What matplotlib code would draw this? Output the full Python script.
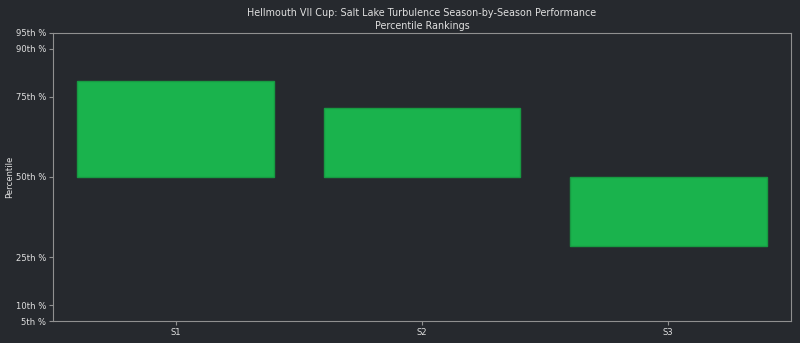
import matplotlib.pyplot as plt
import numpy as np

# season data
seasons = ['S1', 'S2', 'S3']
percentiles = [80.0, 71.7, 28.4]
baseline = 50
tick_vals = [5, 10, 25, 50, 75, 90, 95]
tick_labels = ['5th %', '10th %', '25th %', '50th %', '75th %', '90th %', '95th %']

bg = '#26292e'
fg = '#e0e0e0'
spine_c = '#909090'

fig = plt.figure(figsize=(8, 3.43), dpi=100, facecolor=bg)
ax = fig.add_axes([0.066, 0.064, 0.923, 0.840], facecolor=bg)

x = np.arange(len(seasons))
heights = [p - baseline for p in percentiles]
ax.bar(x, heights, bottom=baseline, width=0.8, color='#1ab34d', edgecolor='#179a42', linewidth=1)

ax.set_xlim(-0.5, len(seasons) - 0.5)
ax.set_ylim(5, 95)
ax.set_xticks(x)
ax.set_xticklabels(seasons)
ax.set_yticks(tick_vals)
ax.set_yticklabels(tick_labels)
ax.tick_params(colors=spine_c, labelcolor=fg, labelsize=6.1, length=3, pad=1.8)
for s in ax.spines.values():
    s.set_color(spine_c)
ax.set_ylabel('Percentile', color=fg, fontsize=6.1)
ax.yaxis.set_label_coords(-0.052, 0.5)
ax.set_title('Hellmouth VII Cup: Salt Lake Turbulence Season-by-Season Performance\nPercentile Rankings',
             color=fg, fontsize=6.9, linespacing=1.4, pad=3)

fig.savefig('out.png', dpi=100, facecolor=bg)
